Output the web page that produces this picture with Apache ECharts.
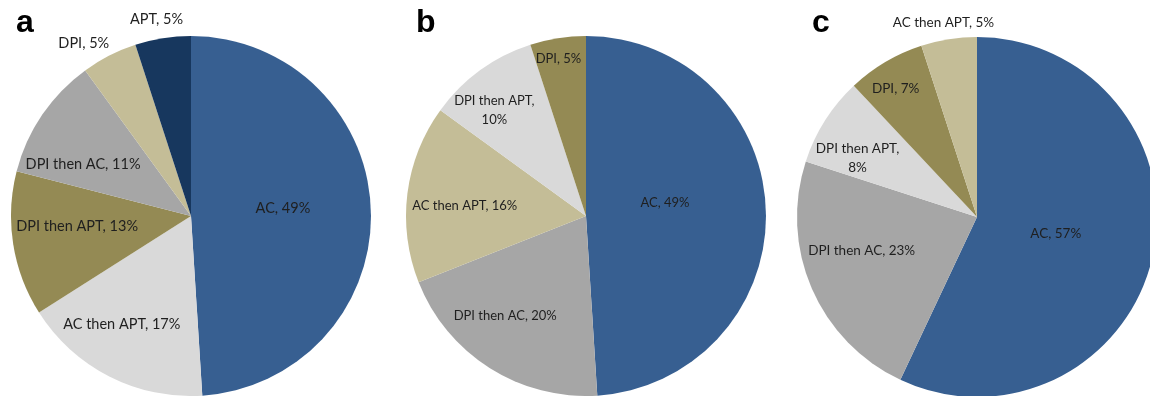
<!DOCTYPE html>
<html>
<head>
<meta charset="utf-8">
<script src="https://cdn.jsdelivr.net/npm/echarts@6/dist/echarts.min.js"></script>
<style>
  html, body { margin: 0; padding: 0; background: #fff; }
  #main { width: 1150px; height: 396px; }
</style>
</head>
<body>
<div id="main"></div>
<script>
// panel a
var namesA = ['AC', 'AC then APT', 'DPI then APT', 'DPI then AC', 'DPI', 'APT'];
var valuesA = [49, 17, 13, 11, 5, 5];
// panel b
var namesB = ['AC', 'DPI then AC', 'AC then APT', 'DPI then APT', 'DPI'];
var valuesB = [49, 20, 16, 10, 5];
// panel c
var namesC = ['AC', 'DPI then AC', 'DPI then APT', 'DPI', 'AC then APT'];
var valuesC = [57, 23, 8, 7, 5];

var colorA = ['#375f91', '#d9d9d9', '#948a54', '#a6a6a6', '#c4bd97', '#17375e'];
var colorB = ['#375f91', '#a6a6a6', '#c4bd97', '#d9d9d9', '#948a54'];
var colorC = ['#375f91', '#a6a6a6', '#d9d9d9', '#948a54', '#c4bd97'];

// label nudges (excel "best fit" placement), px from the default inside spot
var shiftA = [[-1, -5], [-27, 25], [-22, -4], [-31, 1], [-65, -90], [-20, -105]];
var shiftB = [[-14, -10], [-31, 21], [-29, 1], [-37, -30], [-13, -65]];
var shiftC = [[-12, -4], [-30, -3], [-41, -9], [-34, -48], [-19, -103]];
var shifts = [shiftA, shiftB, shiftC];

function makeData(names, values, colors, wrapped) {
  return names.map(function (n, i) {
    var item = {
      name: n,
      value: values[i],
      itemStyle: { color: colors[i] }
    };
    if (wrapped.indexOf(i) >= 0) {
      item.label = { formatter: '{b},\n{c}%' };
    }
    return item;
  });
}

function pie(center, data, fontSize) {
  return {
    type: 'pie',
    center: center,
    radius: 180,
    startAngle: 90,
    clockwise: true,
    silent: true,
    animation: false,
    avoidLabelOverlap: false,
    itemStyle: { borderWidth: 0 },
    label: {
      show: true,
      position: 'inside',
      formatter: '{b}, {c}%',
      color: '#1f1f1f',
      fontFamily: 'Lato',
      fontSize: fontSize,
      lineHeight: 19
    },
    labelLine: { show: false },
    labelLayout: function (params) {
      var s = shifts[params.seriesIndex][params.dataIndex];
      return { dx: s[0], dy: s[1] };
    },
    data: data
  };
}

var titleStyle = { fontSize: 32, fontWeight: 'bold', fontFamily: 'Liberation Sans', color: '#000' };

var chart = echarts.init(document.getElementById('main'));
chart.setOption({
  backgroundColor: '#fff',
  title: [
    { text: 'a', left: 11, top: 2, textStyle: titleStyle },
    { text: 'b', left: 411, top: 2, textStyle: titleStyle },
    { text: 'c', left: 807, top: 2, textStyle: titleStyle }
  ],
  series: [
    pie([191, 216], makeData(namesA, valuesA, colorA, []), 14.5),
    pie([586, 216], makeData(namesB, valuesB, colorB, [3]), 13),
    pie([977, 217], makeData(namesC, valuesC, colorC, [2]), 13.5)
  ]
});
</script>
</body>
</html>
